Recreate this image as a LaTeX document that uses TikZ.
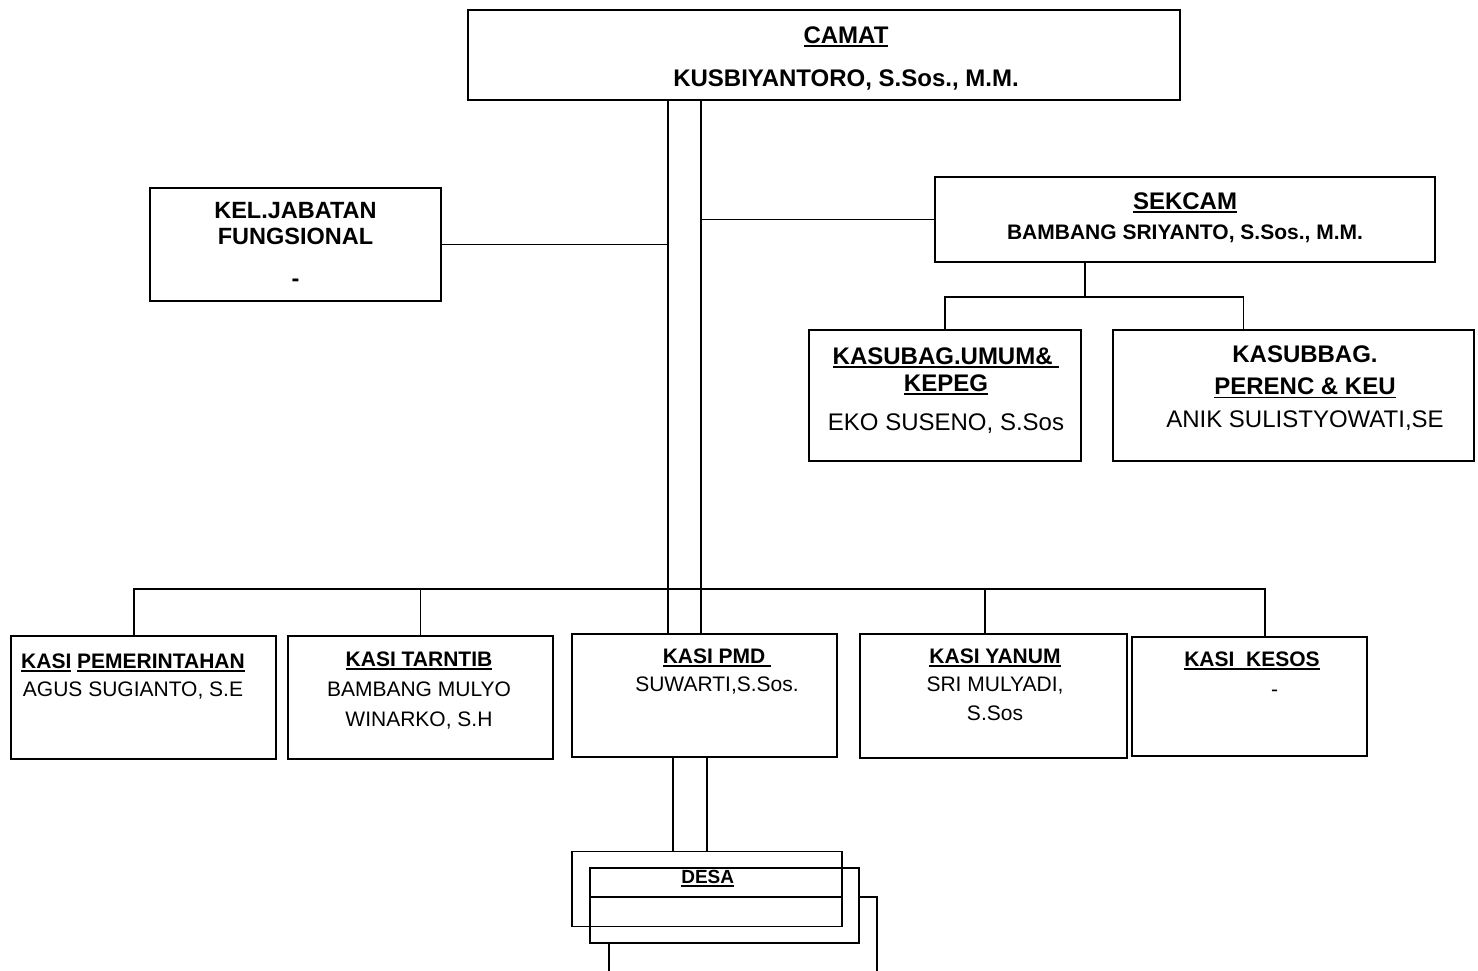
\documentclass[tikz,border=0pt]{standalone}
\usepackage{fontspec}
\setmainfont{Liberation Sans}
\usepackage{tikz}
\usetikzlibrary{positioning,calc}

\newsavebox\ulbox
\newcommand\ulin[1]{\sbox\ulbox{#1}\rlap{\rule[-3.5pt]{\wd\ulbox}{1.8pt}}\usebox\ulbox}

\tikzset{
  box/.style={draw, line width=1.8pt, inner sep=0pt},
  txt/.style={inner sep=0pt, anchor=north, align=center},
  conn/.style={line width=1.7pt}
}

\begin{document}
\begin{tikzpicture}[x=1pt, y=-1pt]
        \useasboundingbox (0,0) rectangle (1478,971);
        % boxes
        \node[box, minimum width=712pt, minimum height=90pt] (camat) at (824,55) {};
        \node[box, minimum width=291pt, minimum height=113pt] (kel) at (295.5,244.5) {};
        \node[box, minimum width=500pt, minimum height=85pt] (sek) at (1185,219.5) {};
        \node[box, minimum width=272pt, minimum height=131pt] (umum) at (945,395.5) {};
        \node[box, minimum width=361pt, minimum height=131pt] (keu) at (1293.5,395.5) {};
        \node[box, minimum width=265pt, minimum height=123pt] (pem) at (143.5,697.5) {};
        \node[box, minimum width=265pt, minimum height=123pt] (tib) at (420.5,697.5) {};
        \node[box, minimum width=265pt, minimum height=123pt] (pmd) at (704.5,695.5) {};
        \node[box, minimum width=267pt, minimum height=124pt] (yan) at (993.5,696) {};
        \node[box, minimum width=235pt, minimum height=119pt] (kes) at (1249.5,696.5) {};
        \node[box, minimum width=270pt, minimum height=75pt] (desaA) at (707,889) {};
        \node[box, minimum width=269pt, minimum height=75pt] (desaB) at (724.5,905.5) {};

        % texts
        \node[txt, font=\bfseries\fontsize{24pt}{43pt}\selectfont] (camat-t) at ([xshift=22pt,yshift=-17.4pt]camat.north) {\ulin{CAMAT}\\KUSBIYANTORO, S.Sos., M.M.};
        \node[txt, font=\bfseries\fontsize{23.5pt}{26pt}\selectfont] (kel-t) at ([yshift=-15.4pt]kel.north) {KEL.JABATAN\\FUNGSIONAL\\[16pt]-};
        \node[txt, font=\bfseries\fontsize{24pt}{30pt}\selectfont] (sek-t) at ([yshift=-16.1pt]sek.north) {\ulin{SEKCAM}\\{\fontsize{21pt}{30pt}\selectfont BAMBANG SRIYANTO, S.Sos., M.M.}};
        \node[txt, font=\fontsize{24pt}{27pt}\selectfont] (umum-t) at ([xshift=1pt,yshift=-18pt]umum.north) {{\bfseries\ulin{KASUBAG.UMUM\&\ }}\\{\bfseries\ulin{KEPEG}}\\[12pt]EKO SUSENO, S.Sos};
        \node[txt, font=\fontsize{24pt}{32.5pt}\selectfont] (keu-t) at ([xshift=11.5pt,yshift=-16.4pt]keu.north) {{\bfseries KASUBBAG.}\\{\bfseries\ulin{PERENC \& KEU}}\\ANIK SULISTYOWATI,SE};
        \node[txt, font=\fontsize{21pt}{28pt}\selectfont] (pem-t) at ([xshift=-10.5pt,yshift=-18.5pt]pem.north) {{\bfseries\ulin{KASI} \ulin{PEMERINTAHAN}}\\AGUS SUGIANTO, S.E};
        \node[txt, font=\fontsize{21pt}{30pt}\selectfont] (tib-t) at ([xshift=-1.5pt,yshift=-16.5pt]tib.north) {{\bfseries\ulin{KASI TARNTIB}}\\BAMBANG MULYO\\WINARKO, S.H};
        \node[txt, font=\fontsize{21pt}{28pt}\selectfont] (pmd-t) at ([xshift=12.5pt,yshift=-15.5pt]pmd.north) {{\bfseries\ulin{KASI PMD\ }}\\SUWARTI,S.Sos.};
        \node[txt, font=\fontsize{21pt}{28.5pt}\selectfont] (yan-t) at ([xshift=1.5pt,yshift=-15.5pt]yan.north) {{\bfseries\ulin{KASI YANUM}}\\SRI MULYADI,\\S.Sos};
        \node[txt, font=\fontsize{21pt}{30pt}\selectfont] (kes-t) at ([xshift=2.5pt,yshift=-15.5pt]kes.north) {{\bfseries\ulin{KASI\ \ KESOS}}\\\hspace*{45pt}-};
        \node[txt, font=\bfseries\fontsize{19pt}{22pt}\selectfont] (desa-t) at ([xshift=0.7pt,yshift=-19pt]desaA.north) {\ulin{DESA}};

        % connectors
        \coordinate (vl) at ([xshift=-156pt]camat.south);
        \coordinate (vr) at ([xshift=-123pt]camat.south);
        \coordinate (bus) at (0,589);
        \coordinate (sbus) at (0,297);
        \draw[conn] (vl) -- (vl |- pmd.north);
        \draw[conn] (vr) -- (vr |- pmd.north);
        \draw[conn] (kel.east) -- (kel.east -| vl);
        \draw[conn] (sek.west) -- (sek.west -| vr);
        \draw[conn] ([xshift=-9.5pt]pem.north) |- ([xshift=15.5pt]kes.north |- bus) -- ([xshift=15.5pt]kes.north);
        \draw[line width=2.4pt] (tib.north |- bus) -- ([xshift=-8.5pt]yan.north |- bus);
        \draw[conn] (tib.north) -- (tib.north |- bus);
        \draw[conn] ([xshift=-8.5pt]yan.north) -- ([xshift=-8.5pt]yan.north |- bus);
        \draw[line width=2.8pt] ([xshift=-100pt]sek.south) -- ([xshift=-100pt]sek.south |- sbus);
        \draw[conn] (umum.north) |- ([xshift=-50pt]keu.north |- sbus) -- ([xshift=-50pt]keu.north);
        \draw[conn] ([xshift=-31.5pt]pmd.south) -- ([xshift=-31.5pt]pmd.south |- desaA.north);
        \draw[conn] ([xshift=2.5pt]pmd.south) -- ([xshift=2.5pt]pmd.south |- desaA.north);

        % stacked desa frames
        \coordinate (cEnd) at (877,975);
        \coordinate (cLeft) at (609,975);
        \draw[box] ([yshift=-30pt]desaB.north west) -- ([yshift=-30pt]desaB.north west -| desaA.east);
        \draw[box] ([yshift=-30pt]desaB.north east) -| (cEnd);
        \draw[box] (desaB.south -| cLeft) -- (cLeft);
    \end{tikzpicture}
\end{document}
